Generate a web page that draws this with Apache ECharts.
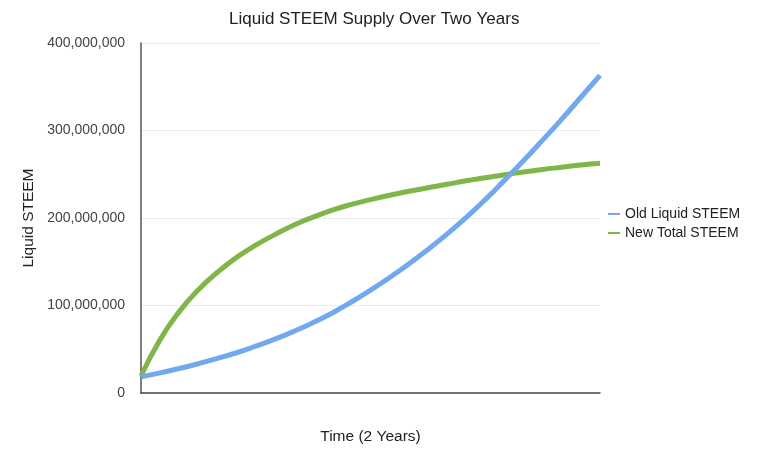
<!DOCTYPE html>
<html>
<head>
<meta charset="utf-8">
<script src="https://cdn.jsdelivr.net/npm/echarts@6/dist/echarts.min.js"></script>
<style>html,body{margin:0;padding:0;background:#fff}#c{width:766px;height:450px}</style>
</head>
<body>
<div id="c"></div>
<script>
var months = [0,1,2,3,4,5,6,7,8,9,10,11,12,13,14,15,16,17,18,19,20,21,22,23,24];
var oldLiquid = [18.5,23,28,33.5,39.5,46,53.5,61.5,70.5,80.5,91.5,104,117.5,132,147.5,164,181.5,200.5,221,243,265.5,289,313,338,363];
var newTotal = [19.5,61,93,118,138,155,169,181,192,201,209,215.5,221,226,230.5,234.5,238.5,242.5,246,249.5,252.5,255.5,258,260.5,262.5];
var seriesNames = ['Old Liquid STEEM','New Total STEEM'];
var yTicks = [0,100000000,200000000,300000000,400000000];

function pairs(vals){ return months.map(function(m,i){ return [m, vals[i]*1e6]; }); }
var font = 'Liberation Sans, Arial, sans-serif';
var chart = echarts.init(document.getElementById('c'));
chart.setOption({
  animation:false,
  title:{text:'Liquid STEEM Supply Over Two Years',left:224,top:6,
    textStyle:{fontFamily:font,fontSize:17,fontWeight:'normal',color:'#222'}},
  legend:{orient:'vertical',left:603,top:202,itemWidth:12,itemHeight:2,itemGap:5,icon:'rect',
    textStyle:{fontFamily:font,fontSize:14,color:'#222'},data:seriesNames},
  grid:{left:141,right:166,top:43,bottom:57},
  xAxis:{type:'value',min:0,max:24,name:'Time (2 Years)',nameLocation:'middle',nameGap:36,
    nameTextStyle:{fontFamily:font,fontSize:15.5,color:'#222'},
    axisLine:{lineStyle:{color:'#444',width:1.5}},axisTick:{show:false},axisLabel:{show:false},splitLine:{show:false}},
  yAxis:{type:'value',min:0,max:400000000,interval:100000000,name:'Liquid STEEM',nameLocation:'middle',nameGap:97,
    nameTextStyle:{fontFamily:font,fontSize:15.5,color:'#222'},
    axisLine:{show:true,lineStyle:{color:'#555',width:1.5}},axisTick:{show:false},
    axisLabel:{fontFamily:font,fontSize:14,color:'#444',margin:16,
      formatter:function(v){return yTicks.indexOf(v)>=0? v.toLocaleString('en-US'):'';}},
    splitLine:{lineStyle:{color:'#ececec',width:1}}},
  series:[
    {name:seriesNames[0],type:'line',smooth:true,showSymbol:false,data:pairs(oldLiquid),
      lineStyle:{color:'#72a8ee',width:5},itemStyle:{color:'#72a8ee'},z:3},
    {name:seriesNames[1],type:'line',smooth:true,showSymbol:false,data:pairs(newTotal),
      lineStyle:{color:'#80b54a',width:5},itemStyle:{color:'#80b54a'},z:2}
  ]
});
</script>
</body>
</html>
